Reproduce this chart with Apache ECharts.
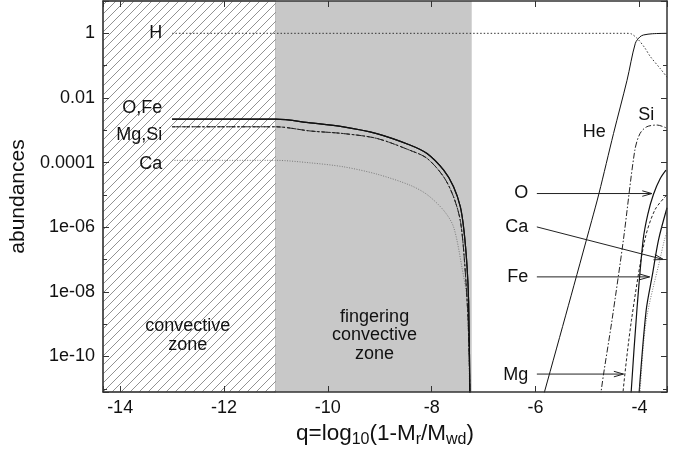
<!DOCTYPE html>
<html>
<head>
<meta charset="utf-8">
<script src="https://cdn.jsdelivr.net/npm/echarts@6/dist/echarts.min.js"></script>
<style>
  html, body { margin: 0; padding: 0; background: #fff; }
  #chart { width: 682px; height: 457px; }
</style>
</head>
<body>
<div id="chart"></div>
<script>
// Depth q = log10(1 - Mr/Mwd) against mass-fraction abundances.
const qRange = [-14.33, -3.47];
const logAbundRange = [-11.1, 1.0];
const convectiveZone = [-14.33, -11.0];
const fingeringZone = [-11.0, -7.23];

// Labels of the even decades on the abundance axis.
const yTickLabels = { '0': '1', '-2': '0.01', '-4': '0.0001', '-6': '1e-06', '-8': '1e-08', '-10': '1e-10' };

// [q, abundance] pairs. "env" = envelope profile, "deep" = deeper layers.
const H = [[-13.0, 1.0], [-4.25, 1.0], [-4.15, 0.95], [-4.02, 0.63], [-3.90, 0.36], [-3.79, 0.19], [-3.60, 0.081], [-3.47, 0.044]];
const He = [[-5.95, 1.6e-12], [-5.83, 7.9e-12], [-5.37, 3.7e-9], [-4.92, 1.6e-6], [-4.78, 1.1e-5], [-4.50, 7.9e-4], [-4.24, 3.5e-2], [-4.08, 0.49], [-3.99, 0.78], [-3.92, 0.89], [-3.75, 0.97], [-3.47, 1.0]];

const O_env = [[-13.0, 2.2e-3], [-11.0, 2.2e-3], [-10.34, 1.7e-3], [-9.70, 1.28e-3], [-9.06, 7.9e-4], [-8.42, 3.5e-4], [-8.09, 1.9e-4], [-7.77, 5.8e-5], [-7.58, 1.8e-5], [-7.45, 4.3e-6], [-7.38, 8.0e-7], [-7.32, 6.0e-8], [-7.29, 5.0e-9], [-7.265, 7.9e-12], [-7.258, 1e-12]];
const O_deep = [[-4.19, 1e-12], [-4.16, 7.9e-12], [-4.05, 2.7e-9], [-3.93, 4.0e-7], [-3.84, 2.5e-6], [-3.73, 1.05e-5], [-3.60, 3.2e-5], [-3.49, 5.8e-5]];

const Fe_env = [[-13.0, 2.2e-3], [-11.0, 2.2e-3], [-10.34, 1.7e-3], [-9.70, 1.28e-3], [-9.06, 7.9e-4], [-8.42, 3.5e-4], [-8.09, 1.9e-4], [-7.77, 5.8e-5], [-7.58, 1.8e-5], [-7.45, 4.3e-6], [-7.38, 8.0e-7], [-7.32, 6.0e-8], [-7.29, 5.0e-9], [-7.265, 7.9e-12], [-7.258, 1e-12]];
const Fe_deep = [[-4.03, 1e-12], [-4.006, 7.9e-12], [-3.871, 2.7e-9], [-3.755, 3.1e-8], [-3.634, 4.0e-7], [-3.47, 4.0e-6]];

const Mg_env = [[-13.0, 1.28e-3], [-11.0, 1.28e-3], [-10.34, 9.5e-4], [-9.70, 7.9e-4], [-9.06, 5.6e-4], [-8.42, 2.4e-4], [-8.09, 1.35e-4], [-7.77, 3.6e-5], [-7.58, 8.7e-6], [-7.45, 1.6e-6], [-7.37, 9.3e-8], [-7.30, 1.3e-9], [-7.265, 7.9e-12], [-7.258, 1e-12]];
const Mg_deep = [[-4.35, 1e-12], [-4.317, 7.9e-12], [-4.155, 1.3e-9], [-3.898, 4.0e-7], [-3.70, 3.5e-6], [-3.47, 1.0e-5]];

const Si_env = [[-13.0, 1.28e-3], [-11.0, 1.28e-3], [-10.34, 9.5e-4], [-9.70, 7.9e-4], [-9.06, 5.6e-4], [-8.42, 2.4e-4], [-8.09, 1.35e-4], [-7.77, 3.6e-5], [-7.58, 8.7e-6], [-7.45, 1.6e-6], [-7.37, 9.3e-8], [-7.30, 1.3e-9], [-7.265, 7.9e-12], [-7.258, 1e-12]];
const Si_deep = [[-4.78, 1e-12], [-4.74, 7.9e-12], [-4.53, 1.3e-9], [-4.31, 4.0e-7], [-4.09, 2.4e-4], [-3.99, 7.9e-4], [-3.86, 1.28e-3], [-3.66, 1.45e-3], [-3.47, 1.15e-3]];

const Ca_env = [[-13.0, 1.17e-4], [-11.0, 1.17e-4], [-10.34, 9.8e-5], [-9.70, 7.4e-5], [-9.06, 4.4e-5], [-8.42, 2.0e-5], [-8.09, 1.02e-5], [-7.77, 3.3e-6], [-7.58, 1.02e-6], [-7.42, 5.9e-8], [-7.32, 5.5e-9], [-7.27, 7.9e-12], [-7.262, 1e-12]];
const Ca_deep = [[-4.02, 1e-12], [-3.99, 7.9e-12], [-3.87, 1.3e-9], [-3.60, 1.1e-7], [-3.52, 4.0e-7], [-3.47, 7.0e-7]];

const FONT = '"Liberation Sans", Arial, Helvetica, sans-serif';
const INK = '#111';

// Convert [q, X] pairs to [q, log10 X]; a '-' row separates the two parts of a profile.
function toLog(rows) { return rows.map(r => [r[0], Math.log10(r[1])]); }
function profile(env, deep) {
  return deep ? toLog(env).concat([['-', '-']], toLog(deep)) : toLog(env);
}

// Diagonal hatching tile for the convective zone.
function hatchTile(size, color) {
  const c = document.createElement('canvas');
  c.width = c.height = size;
  const ctx = c.getContext('2d');
  ctx.strokeStyle = color;
  ctx.lineWidth = 1;
  ctx.beginPath();
  for (let k = -1; k <= 1; k++) {
    ctx.moveTo(-1 + k * size, size + 1);
    ctx.lineTo(size + 1 + k * size, -1);
  }
  ctx.stroke();
  return c;
}

function lineSeries(name, data, style) {
  return {
    name, type: 'line', data, showSymbol: false, symbol: 'none',
    smooth: 0.3, clip: true, silent: true, z: 3,
    lineStyle: Object.assign({ color: INK, width: 1, type: 'solid' }, style)
  };
}

// Text labels placed in data coordinates (q, abundance).
const textNotes = [
  { text: 'H', q: -13.19, v: 1.0, align: 'right' },
  { text: 'O,Fe', q: -13.19, v: 4.8e-3, align: 'right' },
  { text: 'Mg,Si', q: -13.19, v: 7.1e-4, align: 'right' },
  { text: 'Ca', q: -13.19, v: 9.3e-5, align: 'right' },
  { text: 'He', q: -4.872, v: 8.9e-4, align: 'center' },
  { text: 'Si', q: -3.871, v: 2.95e-3, align: 'center' },
  { text: 'O', q: -6.14, v: 1.12e-5, align: 'right' },
  { text: 'Ca', q: -6.14, v: 9.8e-7, align: 'right' },
  { text: 'Fe', q: -6.14, v: 2.9e-8, align: 'right' },
  { text: 'Mg', q: -6.14, v: 2.75e-11, align: 'right' },
  { text: 'convective\nzone', q: -12.70, v: 4.5e-10, align: 'center' },
  { text: 'fingering\nconvective\nzone', q: -9.10, v: 4.5e-10, align: 'center' }
];

// Pointer arrows: start (q, abundance) to end (q, abundance).
const arrowNotes = [
  [-5.976, 1.1e-5, -3.761, 1.1e-5],
  [-5.976, 1.02e-6, -3.538, 1.0e-7],
  [-5.976, 2.9e-8, -3.805, 2.9e-8],
  [-5.976, 2.85e-11, -4.308, 2.85e-11]
];

const chart = echarts.init(document.getElementById('chart'), null, { renderer: 'canvas' });

const axisLineStyle = { color: '#333', width: 1.5 };

function xAxisDef(position, showLabels) {
  return {
    type: 'value', position, min: qRange[0], max: qRange[1],
    minInterval: 2, maxInterval: 2, z: 10,
    axisLine: { show: true, onZero: false, lineStyle: axisLineStyle },
    axisTick: { show: true, inside: true, length: 6, lineStyle: { color: '#333', width: 1 } },
    axisLabel: {
      show: showLabels, margin: 7, fontFamily: FONT, fontSize: 18, color: INK,
      formatter: v => (Math.abs(v - Math.round(v)) < 1e-6 ? String(Math.round(v)) : '')
    },
    splitLine: { show: false },
    name: showLabels ? '{m|q=log}{s|10}{m|(1-M}{s|r}{m|/M}{s|wd}{m|)}' : '',
    nameLocation: 'middle', nameGap: 25,
    nameTextStyle: {
      rich: {
        m: { fontFamily: FONT, fontSize: 22.5, color: INK, lineHeight: 28 },
        s: { fontFamily: FONT, fontSize: 16, color: INK, lineHeight: 16, verticalAlign: 'bottom' }
      }
    }
  };
}

function yAxisDef(position, showLabels) {
  return {
    type: 'value', position, min: logAbundRange[0], max: logAbundRange[1],
    minInterval: 2, maxInterval: 2, z: 10,
    axisLine: { show: true, onZero: false, lineStyle: axisLineStyle },
    axisTick: { show: true, inside: true, length: 6, lineStyle: { color: '#333', width: 1 } },
    minorTick: { show: true, splitNumber: 2, length: 4, lineStyle: { color: '#333', width: 1 } },
    axisLabel: {
      show: showLabels, margin: 8, fontFamily: FONT, fontSize: 18, color: INK,
      formatter: v => {
        const k = Math.round(v);
        return Math.abs(v - k) < 1e-6 && yTickLabels[String(k)] !== undefined ? yTickLabels[String(k)] : '';
      }
    },
    splitLine: { show: false },
    minorSplitLine: { show: false },
    name: showLabels ? 'abundances' : '',
    nameLocation: 'middle', nameGap: 63, nameRotate: 90,
    nameTextStyle: { fontFamily: FONT, fontSize: 21, color: INK }
  };
}

const option = {
  animation: false,
  backgroundColor: '#fff',
  grid: { left: 103, right: 15, top: 1, bottom: 65, containLabel: false },
  xAxis: [xAxisDef('bottom', true), xAxisDef('top', false)],
  yAxis: [yAxisDef('left', true), yAxisDef('right', false)],
  series: [
    {
      name: 'zones', type: 'line', data: [], silent: true, z: 1,
      markArea: {
        silent: true,
        data: [
          [
            { xAxis: convectiveZone[0], yAxis: logAbundRange[0],
              itemStyle: { color: { image: hatchTile(9, '#929292'), repeat: 'repeat' }, borderColor: '#8a8a8a', borderWidth: 1 } },
            { xAxis: convectiveZone[1], yAxis: logAbundRange[1] }
          ],
          [
            { xAxis: fingeringZone[0], yAxis: logAbundRange[0], itemStyle: { color: 'rgb(200,200,200)', borderWidth: 0 } },
            { xAxis: fingeringZone[1], yAxis: logAbundRange[1] }
          ]
        ]
      }
    },
    lineSeries('H', profile(H), { type: [1.5, 2], color: '#333' }),
    lineSeries('He', profile(He), {}),
    lineSeries('Ca', profile(Ca_env, Ca_deep), { type: [1, 1.5], color: '#7a7a7a' }),
    lineSeries('Mg', profile(Mg_env, Mg_deep), { type: [3, 2], color: '#222' }),
    lineSeries('Si', profile(Si_env, Si_deep), { type: [6, 2, 1.5, 2], color: '#222' }),
    lineSeries('Fe', profile(Fe_env, Fe_deep), { width: 1.2 }),
    lineSeries('O', profile(O_env, O_deep), { width: 1.2 }),
    {
      name: 'labels', type: 'custom', coordinateSystem: 'cartesian2d', silent: true, clip: false, z: 6,
      data: textNotes.map(t => [t.q, Math.log10(t.v)]),
      renderItem: (params, api) => {
        const t = textNotes[params.dataIndex];
        const p = api.coord([api.value(0), api.value(1)]);
        return {
          type: 'text', x: p[0], y: p[1],
          style: { text: t.text, align: t.align, verticalAlign: 'middle', fontFamily: FONT, fontSize: 18, lineHeight: 18.5, fill: INK }
        };
      }
    },
    {
      name: 'arrows', type: 'custom', coordinateSystem: 'cartesian2d', silent: true, clip: false, z: 6,
      data: arrowNotes.map(a => [a[0], Math.log10(a[1]), a[2], Math.log10(a[3])]),
      encode: { x: [0, 2], y: [1, 3] },
      renderItem: (params, api) => {
        const p1 = api.coord([api.value(0), api.value(1)]);
        const p2 = api.coord([api.value(2), api.value(3)]);
        const th = Math.atan2(p2[1] - p1[1], p2[0] - p1[0]);
        const L = 10, phi = 0.28;
        const h1 = [p2[0] - L * Math.cos(th - phi), p2[1] - L * Math.sin(th - phi)];
        const h2 = [p2[0] - L * Math.cos(th + phi), p2[1] - L * Math.sin(th + phi)];
        return {
          type: 'group',
          children: [
            { type: 'line', shape: { x1: p1[0], y1: p1[1], x2: p2[0], y2: p2[1] }, style: { stroke: '#222', lineWidth: 1 } },
            { type: 'polyline', shape: { points: [h1, p2, h2] }, style: { stroke: '#222', lineWidth: 1, fill: null } }
          ]
        };
      }
    }
  ]
};

chart.setOption(option);
</script>
</body>
</html>
